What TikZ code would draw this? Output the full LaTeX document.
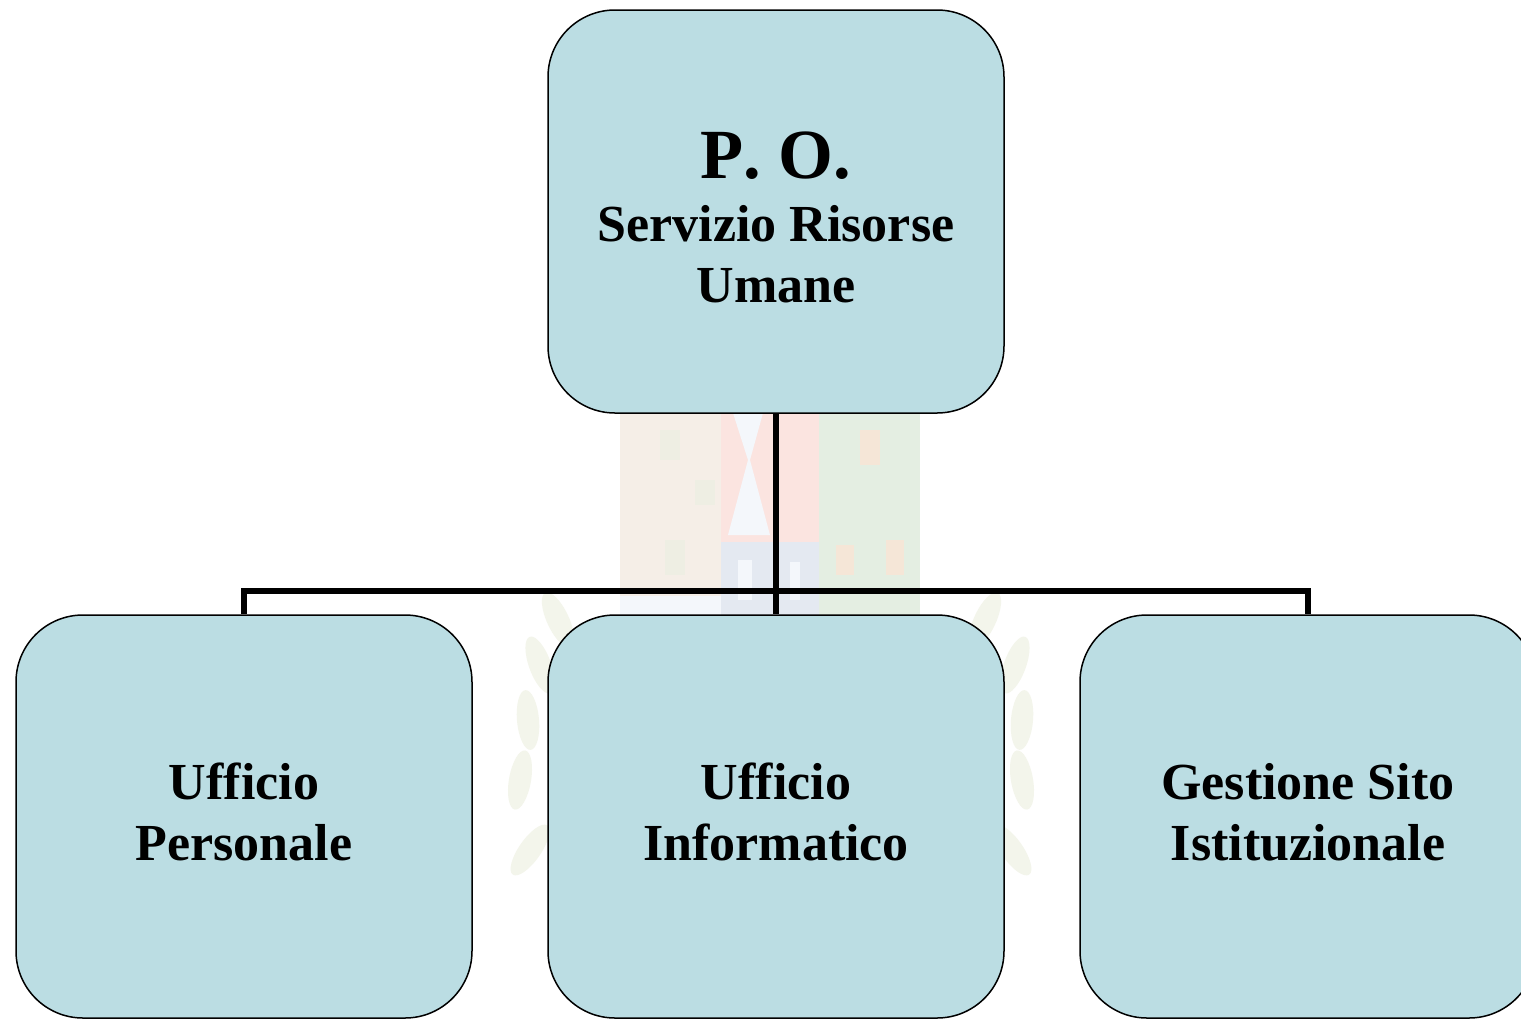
\documentclass[tikz,border=0pt]{standalone}
\usepackage{fontspec}
\setmainfont{Liberation Serif}
\usetikzlibrary{positioning}
\definecolor{boxfill}{RGB}{187,221,227}
\definecolor{wmbeige}{RGB}{245,238,231}
\definecolor{wmgreen}{RGB}{228,238,226}
\definecolor{wmpink}{RGB}{251,228,224}
\definecolor{wmblue}{RGB}{228,233,241}
\definecolor{wmleaf}{RGB}{243,245,235}
\definecolor{wmdark}{RGB}{238,238,227}
\definecolor{wmorange}{RGB}{245,230,215}
\definecolor{wmwhite}{RGB}{244,247,251}
\newcommand{\lowstrut}{\rule[-10pt]{0pt}{10pt}}
\tikzset{
  x=1pt,y=-1pt,
  orgbox/.style={draw=black,line width=1.5pt,fill=boxfill,rounded corners=67pt,
    minimum width=456pt,minimum height=403pt,inner sep=0pt,align=center,text=black,
    font=\fontsize{52}{61}\selectfont\bfseries},
  link/.style={draw=black,line width=5.5pt},
  leaf/.style={fill=wmleaf,draw=none},
  patch/.style={draw=none}
}
\begin{document}
\begin{tikzpicture}
\useasboundingbox (0,0) rectangle (1521,1018);
\fill[white] (0,0) rectangle (1521,1018);
% faint watermark behind the chart
\fill[patch,wmbeige] (620,413) rectangle (721,615);
\fill[patch,wmgreen] (819,413) rectangle (920,615);
\fill[patch,wmpink] (721,413) rectangle (819,542);
\fill[patch,wmblue] (721,542) rectangle (819,615);
\fill[patch,wmwhite] (620,596) rectangle (721,615);
\fill[patch,wmwhite] (733,413) -- (763,413) -- (750,460) -- (770,535) -- (728,535) -- (748,460) -- cycle;
\fill[patch,wmwhite] (738,560) rectangle (752,600);
\fill[patch,wmwhite] (790,562) rectangle (800,600);
\fill[patch,wmorange] (836,545) rectangle (854,575);
\fill[patch,wmorange] (886,540) rectangle (904,575);
\fill[patch,wmorange] (860,430) rectangle (880,465);
\fill[patch,wmdark] (660,430) rectangle (680,460);
\fill[patch,wmdark] (695,480) rectangle (715,505);
\fill[patch,wmdark] (665,540) rectangle (685,575);
\foreach \lx/\ly/\ang in {558/620/-65,540/665/-70,528/720/-85,520/780/80,530/850/55,
  985/620/65,1015/665/70,1022/720/85,1022/780/-80,1012/850/-55}{
  \fill[leaf,rotate around={\ang:(\lx,\ly)}] (\lx,\ly) ellipse [x radius=30pt,y radius=11pt];
}
% boxes
\node[orgbox] (top) at (776,211.5) {\rule{0pt}{59pt}{\fontsize{70.5}{73}\selectfont P\kern0pt. O.}\\[2pt]Servizio Risorse\\Umane};
\node[orgbox] (left) at (244,816.5) {Ufficio\\Personale\lowstrut};
\node[orgbox] (mid) at (776,816.5) {Ufficio\\Informatico\lowstrut};
\node[orgbox] (right) at (1308,816.5) {Gestione Sito\\Istituzionale\lowstrut};
% connectors
\coordinate (bus) at (776,591);
\draw[link] (top.south) -- (mid.north);
\draw[link] (left.north) |- (bus) -| (right.north);
\end{tikzpicture}
\end{document}
